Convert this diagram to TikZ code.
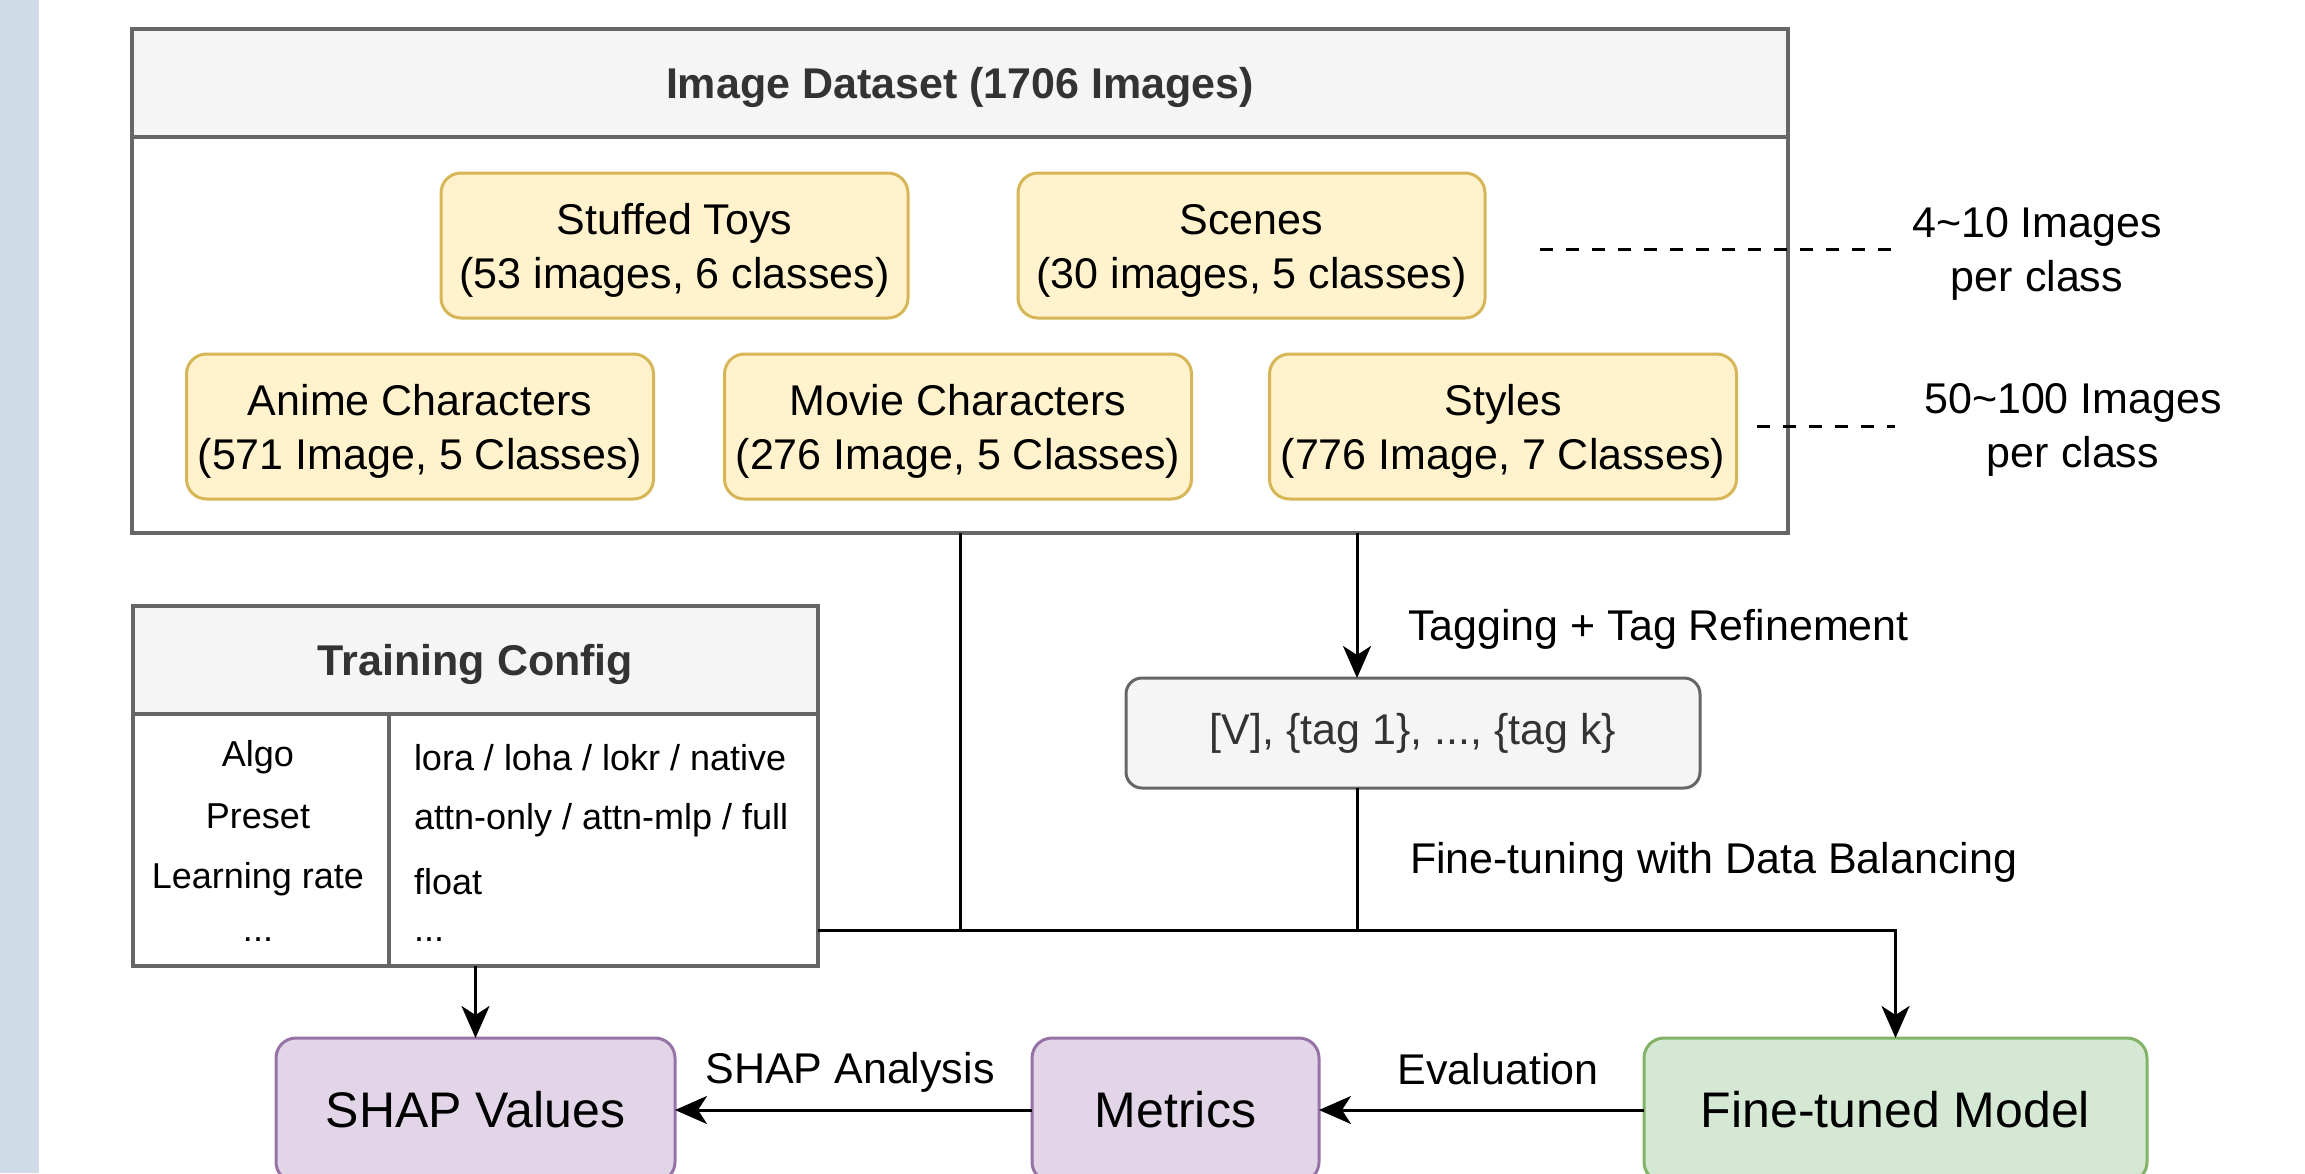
\documentclass[tikz,border=0pt]{standalone}
\usepackage{fontspec}
\setmainfont{Liberation Sans}
\usetikzlibrary{arrows.meta}
\definecolor{yfill}{HTML}{FFF2CC}\definecolor{ydraw}{HTML}{D6B656}
\definecolor{pfill}{HTML}{E1D5E7}\definecolor{pdraw}{HTML}{9673A6}
\definecolor{gfill}{HTML}{D5E8D4}\definecolor{gdraw}{HTML}{82B366}
\definecolor{hfill}{HTML}{F5F5F5}\definecolor{hdraw}{HTML}{666666}
\definecolor{tdark}{HTML}{333333}\definecolor{stripc}{HTML}{CFDBE6}
\newcommand\mylowstrut{\rule{0pt}{40pt}}
\begin{document}
\begin{tikzpicture}[x=1pt,y=-1pt,
  base/.style={inner sep=0pt,outer sep=0pt,align=center,font=\fontsize{43}{54}\selectfont},
  cat/.style={base,draw=ydraw,fill=yfill,line width=3pt,rounded corners=20pt,minimum width=467pt,minimum height=145pt},
  greybox/.style={base,draw=hdraw,line width=3.5pt},
  headbox/.style={greybox,fill=hfill,text=tdark,font=\fontsize{43}{54}\selectfont\bfseries},
  cell/.style={inner sep=0pt,outer sep=0pt,font=\fontsize{36}{45}\selectfont},
  bigbox/.style={base,line width=3pt,rounded corners=20pt,minimum height=144pt,font=\fontsize{50}{60}\selectfont},
  conn/.style={line width=3pt},
  arr/.style={conn,-{Stealth[length=32pt,width=28pt,inset=9pt]}},
  dashline/.style={line width=3pt,dash pattern=on 13pt off 13pt}
]
\useasboundingbox (0,0) rectangle (2305,1173);
\clip (0,0) rectangle (2305,1173);
\fill[white] (0,0) rectangle (2305,1173);
\fill[stripc] (0,0) rectangle (39,1173);

% Image dataset container
\node[headbox,minimum width=1656pt,minimum height=108pt] (dshead) at (960,83) {\mylowstrut Image Dataset (1706 Images)};
\node[greybox,minimum width=1656pt,minimum height=396pt] (dsbody) at (960,335) {};

\node[cat] (toys) at (674.5,245.5) {\mylowstrut Stuffed Toys\\(53 images, 6 classes)};
\node[cat] (scenes) at (1251.5,245.5) {\mylowstrut Scenes\\(30 images, 5 classes)};
\node[cat] (anime) at (420,426.5) {\mylowstrut Anime Characters\\(571 Image, 5 Classes)};
\node[cat] (movie) at (958,426.5) {\mylowstrut Movie Characters\\(276 Image, 5 Classes)};
\node[cat] (styles) at (1503,426.5) {\mylowstrut Styles\\(776 Image, 7 Classes)};

% side annotations
\node[base] (few) at (2037,254) {4{\char"007E}10 Images\\per class};
\node[base] (many) at (2073,430) {50{\char"007E}100 Images\\per class};
\coordinate (d1s) at (1540,249);
\coordinate (d1e) at (1895,249);
\coordinate (d2s) at (1757,426);
\coordinate (d2e) at (1895,426);
\draw[dashline] (d1s) -- (d1e);
\draw[dashline] (d2s) -- (d2e);

% Training config table
\node[headbox,minimum width=685pt,minimum height=108pt] (cfghead) at (475.5,660) {\mylowstrut Training Config};
\node[greybox,minimum width=685pt,minimum height=252pt] (cfgbody) at (475.5,840) {};
\draw[draw=hdraw,line width=3.5pt] (cfgbody.north -| 389,0) -- (cfgbody.south -| 389,0);
\node[cell] (k1) at (258,757) {Algo};
\node[cell] (k2) at (258,816) {Preset};
\node[cell] (k3) at (258,879) {Learning rate};
\node[cell] (k4) at (258,940) {...};
\node[cell,anchor=west] (v1) at (414,758) {lora / loha / lokr / native};
\node[cell,anchor=west] (v2) at (414,820) {attn-only / attn-mlp / full};
\node[cell,anchor=west] (v3) at (414,882) {float};
\node[cell,anchor=west] (v4) at (414,940) {...};

% tag box
\node[base,draw=hdraw,fill=hfill,text=tdark,line width=3pt,rounded corners=16pt,minimum width=574pt,minimum height=110pt] (tag) at (1413,733) {[V], \{tag 1\}, ..., \{tag k\}};

% bottom boxes
\node[bigbox,draw=pdraw,fill=pfill,minimum width=399pt] (shap) at (475.5,1110) {SHAP Values};
\node[bigbox,draw=pdraw,fill=pfill,minimum width=287pt] (met) at (1175.5,1110) {Metrics};
\node[bigbox,draw=gdraw,fill=gfill,minimum width=503pt] (ft) at (1895.5,1110) {Fine-tuned Model};

% connectors
\coordinate (j1) at (960,930);
\coordinate (j2) at (1357,930);
\draw[arr] (dsbody.south -| j2) -- (tag.north -| j2);
\node[base,anchor=west] (lbltag) at (1408,629) {Tagging + Tag Refinement};
\draw[conn] (tag.south -| j2) -- (j2);
\node[base,anchor=west] (lblft) at (1410,862) {Fine-tuning with Data Balancing};
\draw[conn] (dsbody.south) -- (j1);
\draw[arr] (cfgbody.east |- j1) -- (ft.north |- j1) -- (ft.north);
\draw[arr] (cfgbody.south) -- (shap.north);
\draw[arr] (ft.west) -- (met.east);
\node[base] (lbleval) at (1498,1069) {Evaluation};
\draw[arr] (met.west) -- (shap.east);
\node[base] (lblshap) at (850,1072) {SHAP Analysis};
\end{tikzpicture}
\end{document}
